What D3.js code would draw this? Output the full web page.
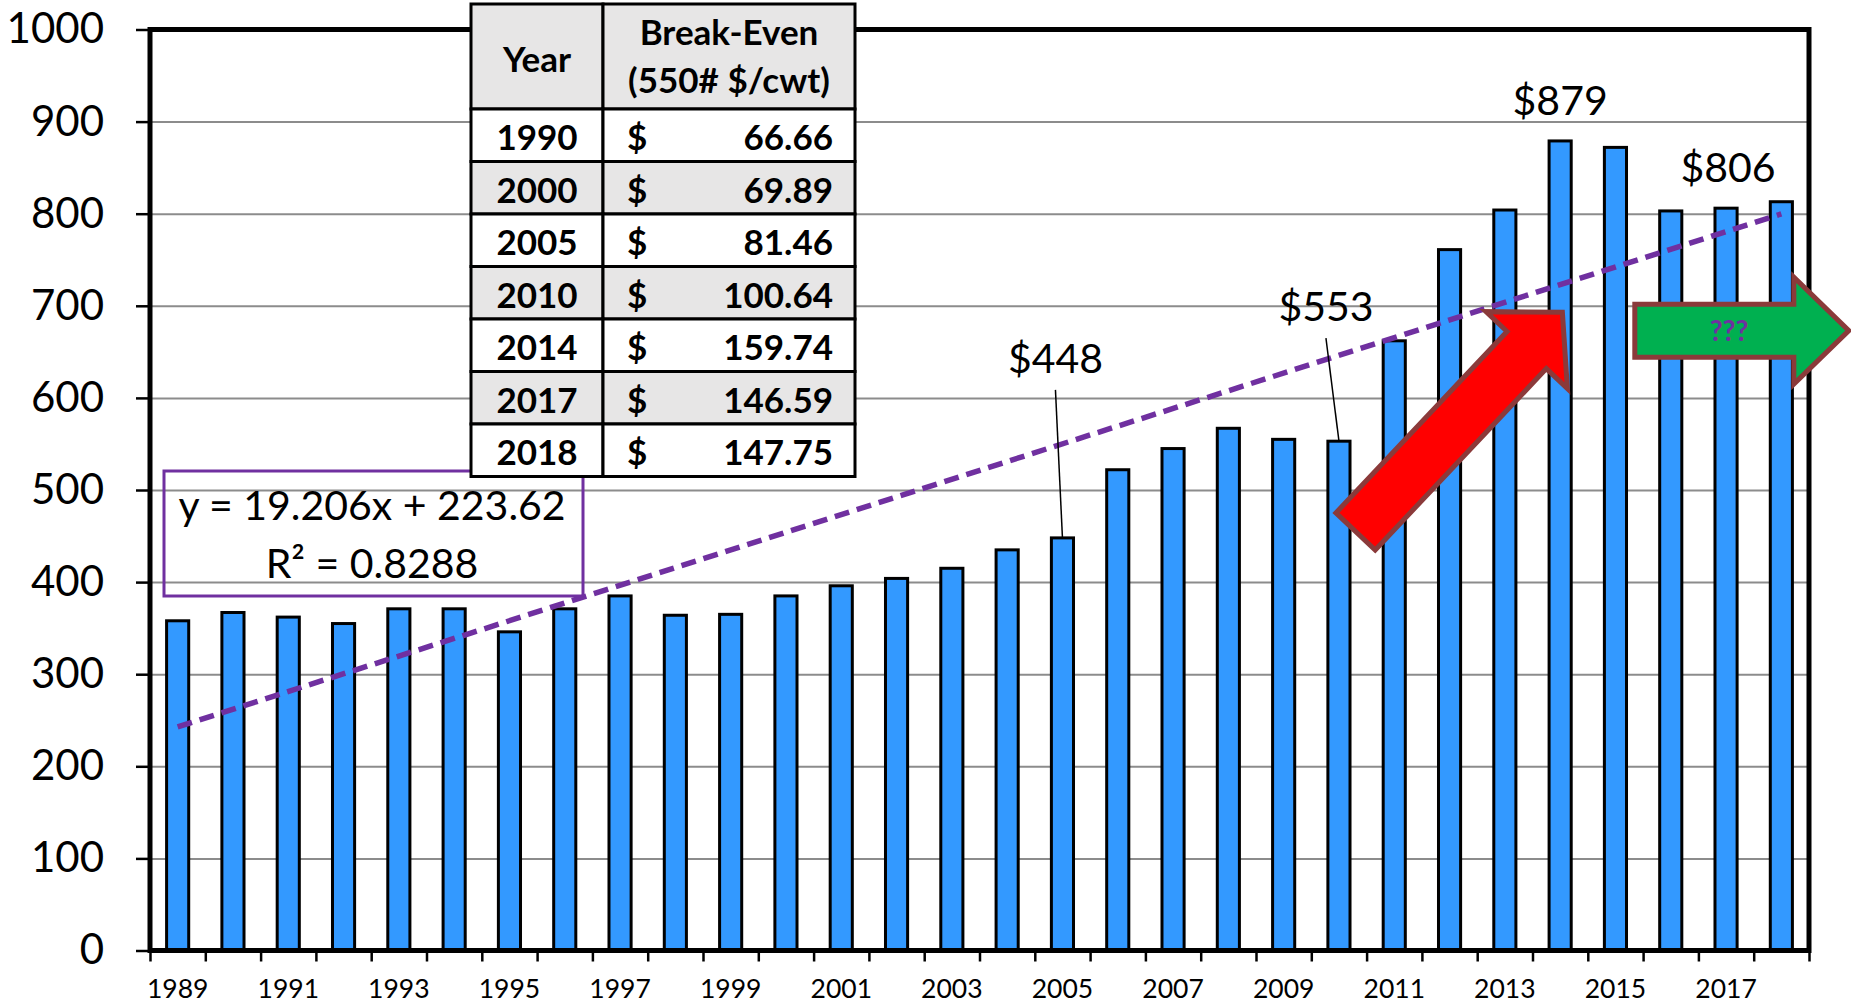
<!DOCTYPE html>
<html>
<head>
<meta charset="utf-8">
<script src="https://cdn.jsdelivr.net/npm/d3@7/dist/d3.min.js"></script>
<style>
  html, body { margin: 0; padding: 0; background: #fff; }
  svg { display: block; font-family: Lato, "Open Sans", sans-serif; }
</style>
</head>
<body>
<div id="chart"></div>
<script>
/***** data *****/
var years = ["1989","1990","1991","1992","1993","1994","1995","1996","1997","1998",
  "1999","2000","2001","2002","2003","2004","2005","2006","2007","2008",
  "2009","2010","2011","2012","2013","2014","2015","2016","2017","2018"];
var values = [358, 367, 362, 355, 371, 371, 346, 371, 385, 364,
  365, 385, 396, 404, 415, 435, 448, 522, 545, 567,
  555, 553, 662, 761, 804, 879, 872, 803, 806, 813];
var xTickLabels = ["1989","1991","1993","1995","1997","1999","2001","2003","2005","2007","2009","2011","2013","2015","2017"];
var yTickValues = [0, 100, 200, 300, 400, 500, 600, 700, 800, 900, 1000];

// linear trend shown on the chart
var trendSlope = 19.206;
var trendIntercept = 223.62;
var trendR2 = "0.8288";

// call-out labels
var calloutYears = ["2005", "2010", "2014", "2017"];

// break-even table
var tableHeader = [["Year"], ["Break-Even", "(550# $/cwt)"]];
var tableYears = ["1990", "2000", "2005", "2010", "2014", "2017", "2018"];
var tableValues = [66.66, 69.89, 81.46, 100.64, 159.74, 146.59, 147.75];

/***** chart parameters *****/
var W = 1851, H = 1006;
var plot = {left: 150, right: 1809, top: 29.5, bottom: 950.5};

var svg = d3.select("#chart")
  .append("svg")
  .attr("width", W)
  .attr("height", H)
;

//scales
var x = d3.scaleBand()
  .domain(years)
  .range([plot.left, plot.right])
  .paddingInner(0.6)
  .paddingOuter(0.3)
;
var xEdge = d3.scaleLinear()
  .domain([0, years.length])
  .range([plot.left, plot.right])
;
var y = d3.scaleLinear()
  .domain([0, 1000])
  .range([plot.bottom, plot.top])
;
var xMid = function(yr) { return x(yr) + x.bandwidth() / 2; };

//gridlines
var grid = svg.append("g")
  .attr("transform", "translate(" + plot.left + ",0)")
  .call(d3.axisLeft(y).tickValues(yTickValues).tickSize(-(plot.right - plot.left)).tickFormat(""))
;
grid.select(".domain").remove();
grid.selectAll("line").attr("stroke", "#8c8c8c").attr("stroke-width", 2);

//bars
svg.append("g")
  .selectAll("rect")
  .data(years)
  .enter()
  .append("rect")
  .attr("x", function(d) { return x(d); })
  .attr("y", function(d, i) { return y(values[i]); })
  .attr("width", x.bandwidth())
  .attr("height", function(d, i) { return y(0) - y(values[i]); })
  .attr("fill", "#3399ff")
  .attr("stroke", "#000")
  .attr("stroke-width", 3)
;

//y axis
var yAxis = svg.append("g")
  .attr("transform", "translate(" + plot.left + ",0)")
  .call(d3.axisLeft(y).tickValues(yTickValues).tickSize(14).tickPadding(32).tickFormat(d3.format("d")))
;
yAxis.select(".domain").remove();
yAxis.selectAll("line").attr("stroke", "#000").attr("stroke-width", 2.5);
yAxis.selectAll("text")
  .attr("fill", "#000")
  .style("font-size", "42px")
  .style("font-family", "Lato, sans-serif")
;

//x axis ticks between categories
var xTicks = svg.append("g")
  .attr("transform", "translate(0," + plot.bottom + ")")
  .call(d3.axisBottom(xEdge).tickValues(d3.range(years.length + 1)).tickSize(11).tickFormat(""))
;
xTicks.select(".domain").remove();
xTicks.selectAll("line").attr("stroke", "#000").attr("stroke-width", 2.5);

//x axis labels
var xAxis = svg.append("g")
  .attr("transform", "translate(0," + plot.bottom + ")")
  .call(d3.axisBottom(x).tickValues(xTickLabels).tickSize(0).tickPadding(29))
;
xAxis.select(".domain").remove();
xAxis.selectAll("text")
  .attr("fill", "#000")
  .style("font-size", "26.5px")
  .style("font-family", "Lato, sans-serif")
;

//plot border
svg.append("rect")
  .attr("x", plot.left)
  .attr("y", plot.top)
  .attr("width", plot.right - plot.left)
  .attr("height", plot.bottom - plot.top)
  .attr("fill", "none")
  .attr("stroke", "#000")
  .attr("stroke-width", 5)
;

//trendline
var trendPts = [1, years.length];
svg.append("path")
  .datum(trendPts)
  .attr("d", d3.line()
    .x(function(d) { return xMid(years[d - 1]); })
    .y(function(d) { return y(trendSlope * d + trendIntercept); }))
  .attr("fill", "none")
  .attr("stroke", "#7030a0")
  .attr("stroke-width", 5.5)
  .attr("stroke-dasharray", "15,8")
;

//call-outs
var callout = {"2005": {dx: -7, dy: -165, leader: true},
  "2010": {dx: -13, dy: -120, leader: true},
  "2014": {dx: 0, dy: -26, leader: false},
  "2017": {dx: 2, dy: -26, leader: false}};
var cg = svg.append("g");
calloutYears.forEach(function(yr) {
  var v = values[years.indexOf(yr)];
  var c = callout[yr];
  var cx = xMid(yr), top = y(v);
  cg.append("text")
    .attr("x", cx + c.dx)
    .attr("y", top + c.dy)
    .attr("text-anchor", "middle")
    .style("font-size", "41px")
    .text("$" + v);
  if (c.leader) {
    cg.append("line")
      .attr("x1", cx + c.dx)
      .attr("y1", top + c.dy + 17)
      .attr("x2", cx)
      .attr("y2", top)
      .attr("stroke", "#000")
      .attr("stroke-width", 1.5);
  }
});

//equation box
var eq = svg.append("g");
eq.append("rect")
  .attr("x", 164).attr("y", 471)
  .attr("width", 419).attr("height", 125)
  .attr("fill", "none")
  .attr("stroke", "#7030a0")
  .attr("stroke-width", 3)
;
eq.append("text")
  .attr("x", 372).attr("y", 520)
  .attr("text-anchor", "middle")
  .style("font-size", "41px")
  .text("y = " + trendSlope + "x + " + trendIntercept)
;
eq.append("text")
  .attr("x", 372).attr("y", 578)
  .attr("text-anchor", "middle")
  .style("font-size", "41px")
  .text("R\u00B2 = " + trendR2)
;

/***** TABLE *****/
var tbl = {left: 471, top: 4, col1: 132, col2: 252, headH: 105, rowH: 52.5};
var tg = svg.append("g").style("font-weight", "bold").style("font-size", "35px");

// header
tg.append("rect")
  .attr("x", tbl.left).attr("y", tbl.top)
  .attr("width", tbl.col1).attr("height", tbl.headH)
  .attr("fill", "#e7e6e6").attr("stroke", "#000").attr("stroke-width", 3);
tg.append("rect")
  .attr("x", tbl.left + tbl.col1).attr("y", tbl.top)
  .attr("width", tbl.col2).attr("height", tbl.headH)
  .attr("fill", "#e7e6e6").attr("stroke", "#000").attr("stroke-width", 3);
tg.append("text")
  .attr("x", tbl.left + tbl.col1 / 2).attr("y", tbl.top + 68)
  .attr("text-anchor", "middle")
  .text(tableHeader[0][0]);
tableHeader[1].forEach(function(t, i) {
  tg.append("text")
    .attr("x", tbl.left + tbl.col1 + tbl.col2 / 2).attr("y", tbl.top + 41 + i * 48)
    .attr("text-anchor", "middle")
    .text(t);
});

// rows
var fmt = d3.format(".2f");
tableYears.forEach(function(yr, i) {
  var ry = tbl.top + tbl.headH + i * tbl.rowH;
  var fill = i % 2 == 0 ? "#ffffff" : "#e7e6e6";
  tg.append("rect")
    .attr("x", tbl.left).attr("y", ry)
    .attr("width", tbl.col1).attr("height", tbl.rowH)
    .attr("fill", fill).attr("stroke", "#000").attr("stroke-width", 3);
  tg.append("rect")
    .attr("x", tbl.left + tbl.col1).attr("y", ry)
    .attr("width", tbl.col2).attr("height", tbl.rowH)
    .attr("fill", fill).attr("stroke", "#000").attr("stroke-width", 3);
  tg.append("text")
    .attr("x", tbl.left + tbl.col1 / 2).attr("y", ry + 41)
    .attr("text-anchor", "middle")
    .text(yr);
  tg.append("text")
    .attr("x", tbl.left + tbl.col1 + 24).attr("y", ry + 41)
    .text("$");
  tg.append("text")
    .attr("x", tbl.left + tbl.col1 + tbl.col2 - 22).attr("y", ry + 41)
    .attr("text-anchor", "end")
    .text(fmt(tableValues[i]));
});

/***** ARROWS *****/
// block arrow from tail centre to tip
var blockArrow = function(t, p, w, hw, hl) {
  var dx = p[0] - t[0], dy = p[1] - t[1];
  var len = Math.sqrt(dx * dx + dy * dy);
  var ux = dx / len, uy = dy / len, nx = -uy, ny = ux;
  var b = [p[0] - ux * hl, p[1] - uy * hl];
  var pts = [
    [t[0] + nx * w / 2, t[1] + ny * w / 2],
    [b[0] + nx * w / 2, b[1] + ny * w / 2],
    [b[0] + nx * hw / 2, b[1] + ny * hw / 2],
    p,
    [b[0] - nx * hw / 2, b[1] - ny * hw / 2],
    [b[0] - nx * w / 2, b[1] - ny * w / 2],
    [t[0] - nx * w / 2, t[1] - ny * w / 2]
  ];
  return "M" + pts.map(function(q) { return q[0] + "," + q[1]; }).join("L") + "Z";
};

// red up arrow
svg.append("path")
  .attr("d", blockArrow([xEdge(21.8), y(455)], [xEdge(25.54), y(693)], 54, 112, 52))
  .attr("fill", "#ff0000")
  .attr("stroke", "#8b3a3a")
  .attr("stroke-width", 5)
  .attr("stroke-linejoin", "miter")
;

// green flat arrow
var gTail = [xEdge(26.85), y(673)], gTip = [xEdge(30.72), y(673)];
svg.append("path")
  .attr("d", blockArrow(gTail, gTip, 53, 107, 55))
  .attr("fill", "#00b050")
  .attr("stroke", "#8b3a3a")
  .attr("stroke-width", 5)
;
svg.append("text")
  .attr("x", gTail[0] + 0.44 * (gTip[0] - gTail[0]))
  .attr("y", gTail[1] + 10)
  .attr("text-anchor", "middle")
  .attr("fill", "#7030a0")
  .style("font-weight", "bold")
  .style("font-size", "28px")
  .text("???")
;
</script>
</body>
</html>
